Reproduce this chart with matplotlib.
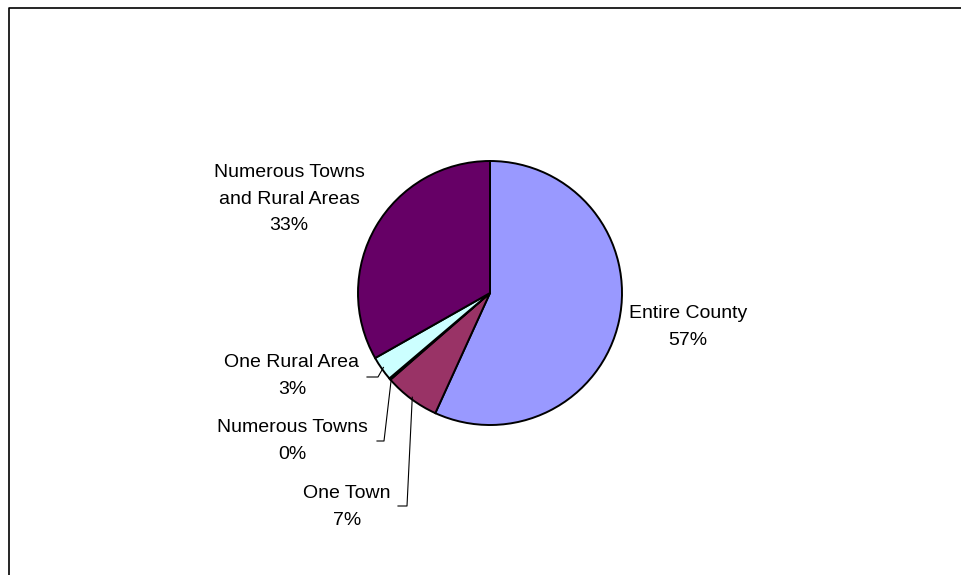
import numpy as np
import matplotlib.pyplot as plt

plt.rcParams['font.family'] = ['Liberation Sans', 'DejaVu Sans']

# share of responses by area served
categories = ['Entire County', 'One Town', 'Numerous Towns', 'One Rural Area',
              'Numerous Towns and Rural Areas']
shares = [56.8, 6.8, 0.2, 3.0, 33.2]
pct_labels = ['57%', '7%', '0%', '3%', '33%']
colors = ['#9999FF', '#993366', '#FFFFCC', '#CCFFFF', '#660066']

W, H = 961, 575
fig = plt.figure(figsize=(W / 100, H / 100), dpi=100)
ax = fig.add_axes([0, 0, 1, 1])

# outer frame (runs off the right and bottom edges)
ax.plot([8.5, 8.5, W + 5], [-5, H - 7.5, H - 7.5], color='black', lw=1.2)

cx, cy, r = 490, H - 293, 132
wedges, _ = ax.pie(shares, colors=colors, startangle=90, counterclock=False,
                   center=(cx, cy), radius=r, frame=True,
                   wedgeprops=dict(edgecolor='black', linewidth=1.4))
ax.set_xlim(0, W)
ax.set_ylim(0, H)
ax.set_aspect('equal')
ax.axis('off')

# label text positions (centre x, centre y in pixels from top)
label_pos = [(688, 327), (347, 507), (292, 441), (292, 376), (289, 199)]
# leader line start (label side) for the small slices
leader = {1: (398, 506, 407), 2: (377, 441, 384), 3: (367, 377, 378)}

for i, (name, pct) in enumerate(zip(categories, pct_labels)):
    x, y = label_pos[i]
    txt = name + '\n' + pct
    if name == 'Numerous Towns and Rural Areas':
        txt = 'Numerous Towns\nand Rural Areas\n' + pct
    ax.text(x, H - y, txt, ha='center', va='center', fontsize=14,
            linespacing=1.72, color='black')
    if i in leader:
        w = wedges[i]
        mid = np.deg2rad((w.theta1 + w.theta2) / 2)
        ex = cx + (r - 2) * np.cos(mid)
        ey = cy + (r - 2) * np.sin(mid)
        x0, y0, x1 = leader[i]
        ax.plot([x0, x1, ex], [H - y0, H - y0, ey], color='black', lw=0.8)

fig.savefig('out.png', dpi=100, facecolor='white')
